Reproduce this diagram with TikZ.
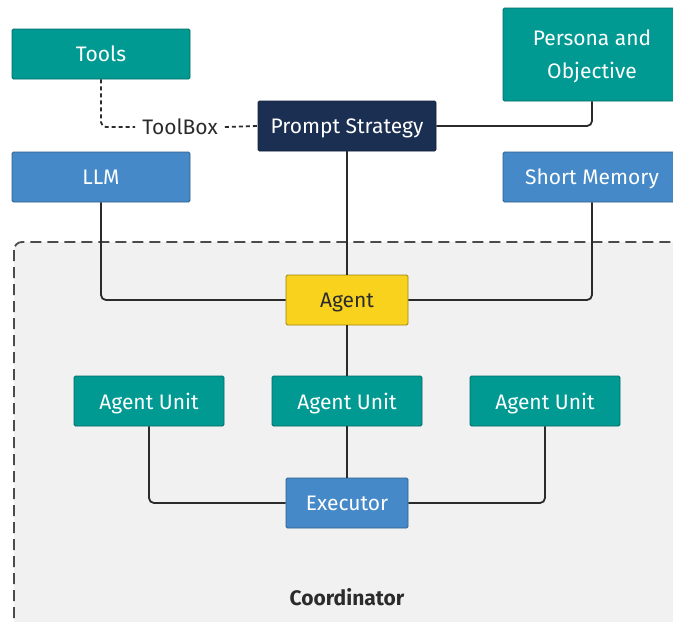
\documentclass[tikz,border=0pt]{standalone}
\usepackage{fontspec}
\setmainfont{Fira Sans}
\begin{document}
\begin{tikzpicture}[x=1pt,y=-1pt,
  box/.style={draw=#1!70!black, rounded corners=1.5pt, minimum height=50pt, text=white, font=\fontsize{21}{25}\selectfont, line width=0.8pt, inner sep=0pt, text depth=0pt},
  teal/.style={box=tealc, fill=tealc},
  blue/.style={box=bluec, fill=bluec},
  link/.style={draw=linec, line width=1.8pt, rounded corners=5pt},
  dlink/.style={link, dashed, dash pattern=on 4pt off 3pt}]
\definecolor{tealc}{HTML}{009A93}
\definecolor{bluec}{HTML}{4589C8}
\definecolor{navyc}{HTML}{1B2F52}
\definecolor{yellc}{HTML}{F9D21E}
\definecolor{linec}{HTML}{2B2B2B}
\definecolor{bgc}{HTML}{F1F1F1}
\useasboundingbox (0,0) rectangle (673,622);
\clip (0,0) rectangle (673,622);
\fill[white] (0,0) rectangle (673,622);
% coordinator
\draw[draw=linec!85, fill=bgc, line width=1.8pt, dash pattern=on 11pt off 6pt, rounded corners=8pt] (14,242) rectangle (700,650);
\node[font=\fontsize{21}{25}\selectfont\bfseries, text=linec] (coord) at (347,597) {Coordinator};
% nodes
\node[teal, minimum width=178pt] (tools) at (101,54) {Tools};
\node[blue, minimum width=178pt] (llm) at (101,177) {LLM};
\node[box=navyc, fill=navyc, minimum width=178pt] (ps) at (347,126) {Prompt Strategy};
\node[teal, minimum width=178pt, minimum height=93pt, align=center, font=\fontsize{21}{33}\selectfont] (po) at (592,54.5) {Persona and\\Objective};
\node[blue, minimum width=178pt] (sm) at (592,177) {Short Memory};
\node[box=yellc!90!black, fill=yellc, text=linec, minimum width=122pt] (agent) at (347,300) {Agent};
\node[teal, minimum width=150pt] (au1) at (149,401) {Agent Unit};
\node[teal, minimum width=150pt] (au2) at (347,401) {Agent Unit};
\node[teal, minimum width=150pt] (au3) at (545,401) {Agent Unit};
\node[blue, minimum width=122pt] (ex) at (347,503) {Executor};
\node[font=\fontsize{21}{25}\selectfont, text=linec, fill=white, inner sep=7pt] (tb) at (180,127) {ToolBox};
% connectors
\draw[dlink] (tools.south) |- (tb.west);
\draw[dlink] (tb.east) -- (ps.west);
\draw[link] (ps.east) -| (po.south);
\draw[link] (ps.south) -- (agent.north);
\draw[link] (llm.south) |- (agent.west);
\draw[link] (sm.south) |- (agent.east);
\draw[link] (agent.south) -- (au2.north);
\draw[link] (au2.south) -- (ex.north);
\draw[link] (au1.south) |- (ex.west);
\draw[link] (au3.south) |- (ex.east);
\end{tikzpicture}
\end{document}
